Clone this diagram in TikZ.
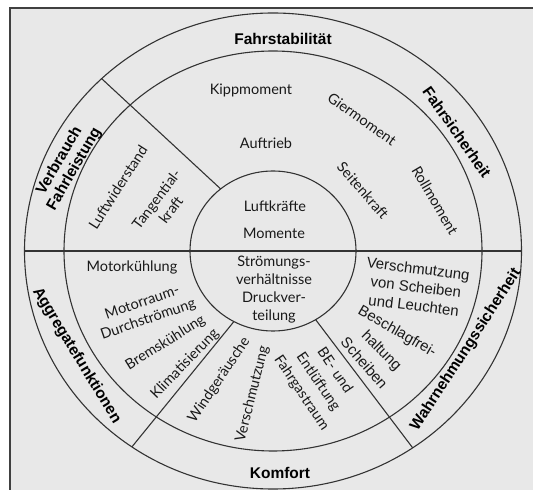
\documentclass[tikz,border=0pt]{standalone}
\usepackage{fontspec}
\setmainfont{Lato}
\newfontfamily\hvfont{Liberation Sans}
\usetikzlibrary{calc}
\begin{document}
\begin{tikzpicture}[x=1pt,y=1pt,
  ring/.style={draw=black!80, line width=1.1pt},
  lbl/.style={font=\fontsize{14.5}{18}\selectfont, text=black!90, inner sep=0pt, align=center},
  hlbl/.style={font=\hvfont\fontsize{15}{18.5}\selectfont, text=black!90, inner sep=0pt, align=center},
  blbl/.style={font=\hvfont\bfseries\fontsize{15.5}{17}\selectfont, text=black, inner sep=0pt, align=center}]
\fill[white] (0,0) rectangle (533,490);
\useasboundingbox (0,0) rectangle (533,490);
\fill[black!9] (10,0) rectangle (533,482);
\draw[line width=2pt, black!75] (10,0) -- (10,482) -- (533,482);
% rings
\coordinate (C) at (273,239);
\draw[ring] (C) ellipse [x radius=248.5, y radius=238];
\draw[ring] (C) ellipse [x radius=209, y radius=200];
\draw[ring] (C) ellipse [x radius=83, y radius=80];
\coordinate (hl) at ($(C)+(180:248.5 and 238)$);
\coordinate (hr) at ($(C)+(0:248.5 and 238)$);
\draw[ring] (hl) -- (hr);
\coordinate (a1) at ($(C)+(129.1:83 and 80)$);
\coordinate (a2) at ($(C)+(133.6:248.5 and 238)$);
\coordinate (b1) at ($(C)+(241.9:83 and 80)$);
\coordinate (b2) at ($(C)+(235.4:248.5 and 238)$);
\coordinate (c1) at ($(C)+(300.9:83 and 80)$);
\coordinate (c2) at ($(C)+(304.2:248.5 and 238)$);
\draw[ring] (a1) -- (a2);
\draw[ring] (b1) -- (b2);
\draw[ring] (c1) -- (c2);
% outer ring labels
\node[blbl] (fs) at (283,451) {Fahrstabilität};
\node[blbl, rotate=-55] (fsi) at (457,358) {Fahrsicherheit};
\node[blbl, rotate=60] (vf) at (67,325) {Verbrauch\\Fahrleistung};
\node[blbl, rotate=-58.6] (ag) at (76.5,134.4) {Aggregatefunktionen};
\node[blbl, rotate=57] (wa) at (466,140) {Wahrnehmungssicherheit};
\node[blbl] (ko) at (280,17) {Komfort};
% middle ring labels
\node[lbl] (kipp) at (251,400) {Kippmoment};
\node[lbl] (auf) at (266,347) {Auftrieb};
\node[lbl, rotate=-35.5] (gier) at (362,371) {Giermoment};
\node[lbl, rotate=-49] (seit) at (363,299.5) {Seitenkraft};
\node[lbl, rotate=-59.5] (roll) at (435,289.5) {Rollmoment};
\node[lbl, rotate=57.5] (lw) at (118,303) {Luftwiderstand};
\node[lbl, rotate=53] (tk) at (163.5,285.5) {Tangential-\\kraft};
\node[lbl] (mk) at (132,223) {Motorkühlung};
\node[lbl, rotate=19] (md) at (145.4,178.7) {Motorraum-\\Durchströmung};
\node[lbl, rotate=32] (bk) at (165.4,147) {Bremskühlung};
\node[lbl, rotate=46] (kl) at (185,126) {Klimatisierung};
\node[lbl, rotate=56] (wg) at (219.2,110) {Windgeräusche};
\node[lbl, rotate=76] (vs) at (252.5,96.2) {Verschmutzung};
\node[lbl, rotate=-56, font=\fontsize{14.5}{20}\selectfont] (be) at (318,108) {BE- und\\Entlüftung\\Fahrgastraum};
\node[hlbl, rotate=-7] (vsl) at (416,203) {Verschmutzung\\von Scheiben\\und Leuchten};
\node[hlbl, rotate=-30] (bf1) at (397,158) {Beschlagfrei-};
\node[hlbl, rotate=-45] (bf2) at (381,139) {haltung};
\node[hlbl, rotate=-49] (bf3) at (364.5,127) {Scheiben};
% centre labels
\node[lbl] (lk) at (275,283.3) {Luftkräfte};
\node[lbl] (mo) at (274,256.7) {Momente};
\node[lbl] (sv) at (274,220) {Strömungs-\\verhältnisse};
\node[lbl] (dv) at (274,182.5) {Druckver-\\teilung};
\end{tikzpicture}
\end{document}
